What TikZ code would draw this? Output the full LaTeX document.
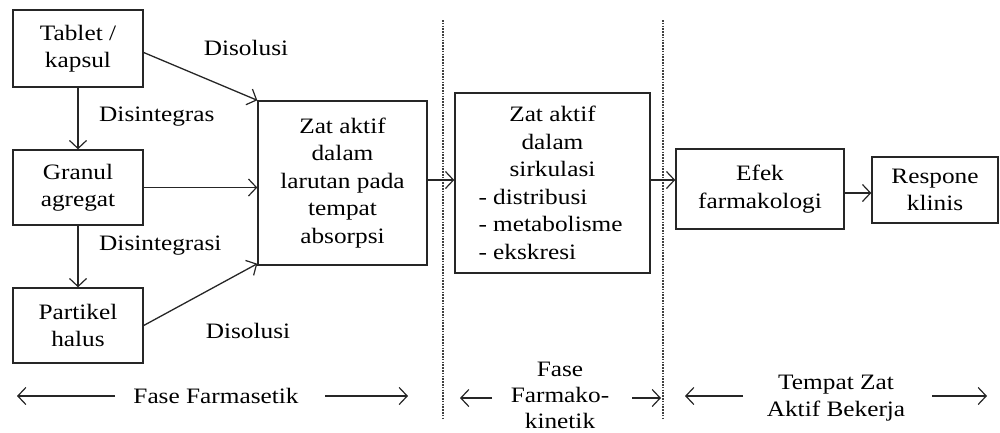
\documentclass[tikz,border=0pt]{standalone}
\usepackage{fontspec}
\setmainfont{Liberation Serif}[FakeStretch=1.15]
\usetikzlibrary{arrows.meta}
\begin{document}
\begin{tikzpicture}[x=1pt,y=-1pt,
  box/.style={draw=black!85,line width=1.4pt,inner sep=0pt,align=center,
    font=\fontsize{22}{27.5}\selectfont},
  lbl/.style={inner sep=0pt,font=\fontsize{22}{27.5}\selectfont,align=center},
  arr/.style={draw=black!85,line width=1.3pt,-{Straight Barb[length=8pt,width=17pt,line width=1.2pt]}},
  sep/.style={draw=black!75,line width=1.3pt,dash pattern=on 1.6pt off 1.2pt}]
\useasboundingbox (0,0) rectangle (1000,432);
% boxes
\node[box,minimum width=130pt,minimum height=77pt] (tab) at (78,48.5) {Tablet /\\kapsul};
\node[box,minimum width=130pt,minimum height=75pt] (gran) at (78,187.5) {Granul\\agregat};
\node[box,minimum width=130pt,minimum height=75pt] (part) at (78,325.5) {Partikel\\halus};
\node[box,minimum width=169pt,minimum height=164pt] (zat) at (342.5,183) {Zat aktif\\dalam\\larutan pada\\tempat\\absorpsi};
\node[box,minimum width=195pt,minimum height=180pt] (sirk) at (552.5,183) {Zat aktif\\dalam\\sirkulasi\\
  \makebox[148pt][l]{- distribusi}\\\makebox[148pt][l]{- metabolisme}\\\makebox[148pt][l]{- ekskresi}};
\node[box,minimum width=168pt,minimum height=80pt] (efek) at (760,189) {Efek\\farmakologi};
\node[box,minimum width=126pt,minimum height=66pt] (resp) at (935,190) {Respone\\klinis};
% separators
\coordinate (s1t) at (443,20); \coordinate (s1b) at (443,418);
\coordinate (s2t) at (663,20); \coordinate (s2b) at (663,418);
\draw[sep] (s1t) -- (s1b);
\draw[sep] (s2t) -- (s2b);
% connectors
\coordinate (te) at ([yshift=-4pt]tab.east);
\draw[arr] (tab.south) -- (gran.north);
\draw[arr] (gran.south) -- (part.north);
\draw[arr] (te) -- (zat.north west);
\draw[arr] (gran.east) -- (gran.east -| zat.west);
\draw[arr] (part.east) -- ([yshift=2pt]zat.south west);
\draw[arr] ([yshift=3pt]zat.east) -- ([yshift=3pt]sirk.west);
\draw[arr] ([yshift=3pt]sirk.east) -- ([yshift=3pt]sirk.east -| efek.west);
\draw[arr] ([yshift=-4pt]efek.east) -- ([yshift=-4pt]efek.east -| resp.west);
% labels
\node[lbl] (l1) at (246,48) {Disolusi};
\node[lbl,anchor=west] (l2) at (99,117) {Disintegras};
\node[lbl,anchor=west] (l3) at (99,246) {Disintegrasi};
\node[lbl] (l4) at (248,331) {Disolusi};
% phases
\node[lbl] (p1) at (216,396) {Fase Farmasetik};
\coordinate (p1a) at (115,396); \coordinate (p1b) at (17,396);
\coordinate (p1c) at (325,396); \coordinate (p1d) at (408,396);
\draw[arr] (p1a) -- (p1b);
\draw[arr] (p1c) -- (p1d);
\node[lbl,font=\fontsize{22}{26}\selectfont] (p2) at (560,395) {Fase\\Farmako-\\kinetik};
\coordinate (p2a) at (492,398); \coordinate (p2b) at (460,398);
\coordinate (p2c) at (632,398); \coordinate (p2d) at (661,398);
\draw[arr] (p2a) -- (p2b);
\draw[arr] (p2c) -- (p2d);
\node[lbl] (p3) at (836,398) {Tempat Zat\\Aktif Bekerja};
\coordinate (p3a) at (743,396); \coordinate (p3b) at (685,396);
\coordinate (p3c) at (932,396); \coordinate (p3d) at (987,396);
\draw[arr] (p3a) -- (p3b);
\draw[arr] (p3c) -- (p3d);
\end{tikzpicture}
\end{document}
